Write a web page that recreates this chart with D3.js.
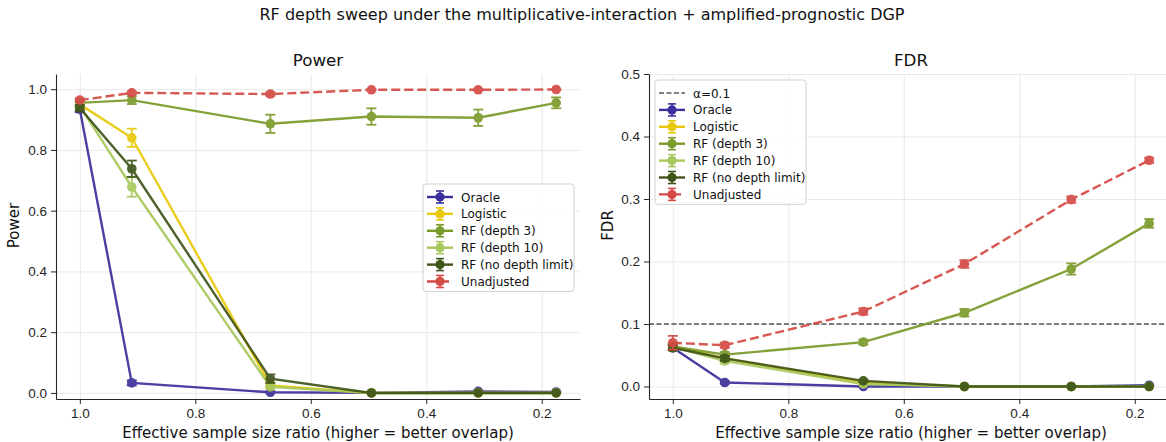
<!DOCTYPE html>
<html>
<head>
<meta charset="utf-8">
<script src="https://cdn.jsdelivr.net/npm/d3@7"></script>
<style>
  body { margin: 0; background: #fff; }
  svg { font-family: "DejaVu Sans", sans-serif; display: block; }
  .axis path, .axis line { stroke: #262626; }
  .axis text { fill: #262626; font-size: 13.5px; }
  .grid line { stroke: #e6e6e6; stroke-width: 0.9; }
  .grid path { display: none; }
</style>
</head>
<body>
<div id="chart"></div>
<script>

// effective sample size ratios (x positions)
var ratios = [1.0, 0.91, 0.67, 0.495, 0.31, 0.175]

var seriesNames = ["Oracle", "Logistic", "RF (depth 3)", "RF (depth 10)", "RF (no depth limit)", "Unadjusted"]

var seriesColors = ["#3b309a", "#e8c90a", "#7a9a2a", "#a8c85c", "#3e5418", "#d44a45"]

var seriesDashed = [false, false, false, false, false, true]

// power, one row per series
var powerOracle = [0.934, 0.033, 0.002, 0.0, 0.005, 0.003]
var powerLogistic = [0.950, 0.840, 0.025, 0.0, 0.0, 0.0]
var powerRF3 = [0.955, 0.964, 0.886, 0.910, 0.906, 0.955]
var powerRF10 = [0.945, 0.678, 0.020, 0.0, 0.0, 0.0]
var powerRFnl = [0.938, 0.738, 0.047, 0.0, 0.0, 0.0]
var powerUnadj = [0.964, 0.988, 0.984, 0.998, 0.998, 0.999]

var powerErrOracle = [0.010, 0.008, 0.002, 0.0, 0.003, 0.002]
var powerErrLogistic = [0.010, 0.030, 0.006, 0.0, 0.0, 0.0]
var powerErrRF3 = [0.010, 0.013, 0.030, 0.027, 0.027, 0.018]
var powerErrRF10 = [0.010, 0.032, 0.005, 0.0, 0.0, 0.0]
var powerErrRFnl = [0.010, 0.027, 0.014, 0.0, 0.0, 0.0]
var powerErrUnadj = [0.006, 0.004, 0.006, 0.002, 0.002, 0.001]

// FDR, one row per series
var fdrOracle = [0.062, 0.0064, 0.0, 0.0, 0.0, 0.002]
var fdrLogistic = [0.065, 0.045, 0.006, 0.0, 0.0, 0.0]
var fdrRF3 = [0.064, 0.051, 0.071, 0.118, 0.188, 0.261]
var fdrRF10 = [0.063, 0.041, 0.004, 0.0, 0.0, 0.0]
var fdrRFnl = [0.062, 0.045, 0.009, 0.0, 0.0, 0.0]
var fdrUnadj = [0.070, 0.066, 0.120, 0.196, 0.299, 0.362]

var fdrErrOracle = [0.004, 0.002, 0.001, 0.0, 0.0, 0.001]
var fdrErrLogistic = [0.005, 0.004, 0.002, 0.0, 0.0, 0.0]
var fdrErrRF3 = [0.005, 0.004, 0.004, 0.006, 0.009, 0.007]
var fdrErrRF10 = [0.005, 0.004, 0.002, 0.0, 0.0, 0.0]
var fdrErrRFnl = [0.004, 0.004, 0.002, 0.0, 0.0, 0.0]
var fdrErrUnadj = [0.011, 0.004, 0.005, 0.006, 0.005, 0.004]

var xTicks = [1.0, 0.8, 0.6, 0.4, 0.2]
var powerTicks = [0.0, 0.2, 0.4, 0.6, 0.8, 1.0]
var fdrTicks = [0.0, 0.1, 0.2, 0.3, 0.4, 0.5]
var alpha = 0.1

var width = 1166, height = 442

var svg = d3.select("#chart").append("svg")
    .attr("width", width)
    .attr("height", height)

svg.append("text")
    .attr("x", 582)
    .attr("y", 20)
    .attr("text-anchor", "middle")
    .attr("font-size", 16)
    .attr("fill", "#111")
    .text("RF depth sweep under the multiplicative-interaction + amplified-prognostic DGP")

function panel(opts) {

    var left = opts.left, top = 74, w = 524, h = 325

    var xScale = d3.scaleLinear()
        .domain([1.04125, 0.13375])
        .range([0, w])

    var yScale = d3.scaleLinear()
        .domain(opts.ylim)
        .range([h, 0])

    var g = svg.append("g")
        .attr("transform", "translate(" + left + "," + top + ")")

    // grid
    g.append("g")
        .attr("class", "grid")
        .attr("transform", "translate(0," + h + ")")
        .call(d3.axisBottom(xScale).tickValues(xTicks).tickSize(-h).tickFormat(""))

    g.append("g")
        .attr("class", "grid")
        .call(d3.axisLeft(yScale).tickValues(opts.yTicks).tickSize(-w).tickFormat(""))

    if (opts.alphaLine) {
        g.append("line")
            .attr("x1", 0)
            .attr("x2", w)
            .attr("y1", yScale(alpha))
            .attr("y2", yScale(alpha))
            .attr("stroke", "#555")
            .attr("stroke-width", 1.3)
            .attr("stroke-dasharray", "5 2.5")
    }

    var line = d3.line()
        .x(function(d) { return xScale(d.x) })
        .y(function(d) { return yScale(d.y) })

    opts.values.forEach(function(vals, i) {

        var data = vals.map(function(v, j) {
            return { x: ratios[j], y: v, e: opts.errors[i][j] }
        })

        var color = seriesColors[i]

        var s = g.append("g").attr("opacity", 0.92)

        s.append("path")
            .datum(data)
            .attr("d", line)
            .attr("fill", "none")
            .attr("stroke", color)
            .attr("stroke-width", 2.4)
            .attr("stroke-dasharray", seriesDashed[i] ? "9 4" : null)

        data.forEach(function(d) {

            var cx = xScale(d.x)

            if (d.e > 0) {
                s.append("line")
                    .attr("x1", cx).attr("x2", cx)
                    .attr("y1", yScale(d.y - d.e)).attr("y2", yScale(d.y + d.e))
                    .attr("stroke", color).attr("stroke-width", 1.8)

                ;[d.y - d.e, d.y + d.e].forEach(function(v) {
                    s.append("line")
                        .attr("x1", cx - 5).attr("x2", cx + 5)
                        .attr("y1", yScale(v)).attr("y2", yScale(v))
                        .attr("stroke", color).attr("stroke-width", 1.8)
                })
            }

            s.append("circle")
                .attr("cx", cx)
                .attr("cy", yScale(d.y))
                .attr("r", 4.8)
                .attr("fill", color)
        })

    })

    // axes, only left and bottom spines
    var xAxis = g.append("g")
        .attr("class", "axis")
        .attr("transform", "translate(0," + h + ")")
        .call(d3.axisBottom(xScale).tickValues(xTicks).tickFormat(d3.format(".1f")).tickSize(5).tickPadding(4).tickSizeOuter(0))

    var yAxis = g.append("g")
        .attr("class", "axis")
        .call(d3.axisLeft(yScale).tickValues(opts.yTicks).tickFormat(d3.format(".1f")).tickSize(5).tickPadding(4).tickSizeOuter(0))

    xAxis.select(".domain").attr("stroke-width", 1.1)
    yAxis.select(".domain").attr("stroke-width", 1.1)

    g.append("text")
        .attr("x", w / 2)
        .attr("y", -8)
        .attr("text-anchor", "middle")
        .attr("font-size", 16.7)
        .attr("fill", "#111")
        .text(opts.title)

    g.append("text")
        .attr("x", w / 2)
        .attr("y", h + 39)
        .attr("text-anchor", "middle")
        .attr("font-size", 15)
        .attr("fill", "#111")
        .text("Effective sample size ratio (higher = better overlap)")

    g.append("text")
        .attr("transform", "translate(" + opts.ylabelX + "," + (h / 2 - 11) + ") rotate(-90)")
        .attr("text-anchor", "middle")
        .attr("font-size", 15)
        .attr("fill", "#111")
        .text(opts.ylabel)

    // legend
    var rows = seriesNames.map(function(name, i) {
        return { label: name, color: seriesColors[i], dashed: seriesDashed[i], marker: true }
    })

    if (opts.alphaLine) {
        rows.unshift({ label: "α=" + alpha, color: "#555", dashed: true, marker: false })
    }

    var lg = svg.append("g")
        .attr("transform", "translate(" + opts.legend[0] + "," + opts.legend[1] + ")")

    lg.append("rect")
        .attr("width", opts.legend[2])
        .attr("height", rows.length * 16.9 + 6)
        .attr("rx", 3)
        .attr("fill", "#fff")
        .attr("fill-opacity", 0.85)
        .attr("stroke", "#d0d0d0")

    rows.forEach(function(r, i) {

        var y = 13 + i * 16.9

        var row = lg.append("g").attr("transform", "translate(0," + y + ")")

        if (r.marker) {
            row.append("line")
                .attr("x1", 4).attr("x2", 30).attr("y1", 0).attr("y2", 0)
                .attr("stroke", r.color).attr("stroke-width", 2.4)
                .attr("stroke-dasharray", r.dashed ? "9 4" : null)
            row.append("line")
                .attr("x1", 17).attr("x2", 17).attr("y1", -6).attr("y2", 6)
                .attr("stroke", r.color).attr("stroke-width", 1.6)
            ;[-6, 6].forEach(function(dy) {
                row.append("line")
                    .attr("x1", 13).attr("x2", 21).attr("y1", dy).attr("y2", dy)
                    .attr("stroke", r.color).attr("stroke-width", 1.6)
            })
            row.append("circle")
                .attr("cx", 17).attr("cy", 0).attr("r", 4.6)
                .attr("fill", r.color)
        } else {
            row.append("line")
                .attr("x1", 4).attr("x2", 30).attr("y1", 0).attr("y2", 0)
                .attr("stroke", r.color).attr("stroke-width", 1.3)
                .attr("stroke-dasharray", "5 2.5")
        }

        row.append("text")
            .attr("x", 38)
            .attr("y", 4.5)
            .attr("font-size", 12)
            .attr("fill", "#111")
            .text(r.label)
    })

}

panel({
    left: 56,
    title: "Power",
    ylabel: "Power",
    ylabelX: -37,
    ylim: [-0.02, 1.05],
    yTicks: powerTicks,
    values: [powerOracle, powerLogistic, powerRF3, powerRF10, powerRFnl, powerUnadj],
    errors: [powerErrOracle, powerErrLogistic, powerErrRF3, powerErrRF10, powerErrRFnl, powerErrUnadj],
    alphaLine: false,
    legend: [423, 184, 151]
})

panel({
    left: 649,
    title: "FDR",
    ylabel: "FDR",
    ylabelX: -36,
    ylim: [-0.02, 0.5],
    yTicks: fdrTicks,
    values: [fdrOracle, fdrLogistic, fdrRF3, fdrRF10, fdrRFnl, fdrUnadj],
    errors: [fdrErrOracle, fdrErrLogistic, fdrErrRF3, fdrErrRF10, fdrErrRFnl, fdrErrUnadj],
    alphaLine: true,
    legend: [655, 80, 151]
})

</script>
</body>
</html>
